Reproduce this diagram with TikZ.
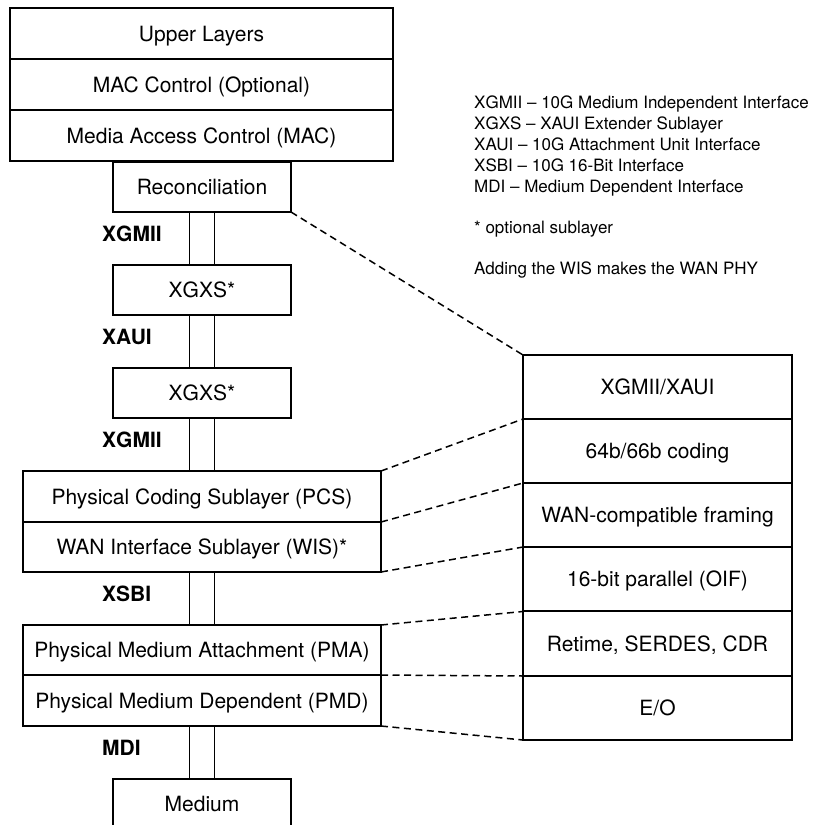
\documentclass[tikz,border=0pt]{standalone}
\usepackage{fontspec}
\setmainfont{TeX Gyre Heros}
\begin{document}
\begin{tikzpicture}[x=1pt,y=-1pt,
  box/.style={draw,line width=1.6pt,inner sep=0pt,outer sep=0pt,align=center,
    font=\fontsize{21}{25}\selectfont,text height=15pt,text depth=0pt},
  rbox/.style={draw,line width=1.1pt,inner sep=0pt,outer sep=0pt,minimum width=269pt,minimum height=64pt,
    font=\fontsize{21}{25}\selectfont,text height=15pt,text depth=0pt},
  lbl/.style={anchor=west,inner sep=0pt,font=\fontsize{21}{25}\selectfont\bfseries,text height=15pt,text depth=0pt},
  leg/.style={anchor=west,inner sep=0pt,font=\fontsize{17}{20}\selectfont,text height=12.2pt,text depth=0pt},
  link/.style={line width=1.6pt},
  dsh/.style={line width=1.5pt,dash pattern=on 7pt off 4.5pt}]
\useasboundingbox (0,0) rectangle (812,825);
% top stack
\node[box,minimum width=383pt,minimum height=51pt] (upper) at (201.5,33.5) {Upper Layers};
\node[box,minimum width=383pt,minimum height=51pt] (macctl) at (201.5,84.5) {MAC Control (Optional)};
\node[box,minimum width=383pt,minimum height=51pt] (mac) at (201.5,135.5) {Media Access Control (MAC)};
\node[box,minimum width=178pt,minimum height=50pt] (recon) at (202,187) {Reconciliation};
\node[box,minimum width=178pt,minimum height=50pt] (xgxsa) at (202,290) {XGXS*};
\node[box,minimum width=178pt,minimum height=50pt] (xgxsb) at (202,393) {XGXS*};
\node[box,minimum width=358pt,minimum height=51pt] (pcs) at (202,496.5) {Physical Coding Sublayer (PCS)};
\node[box,minimum width=358pt,minimum height=50pt] (wis) at (202,547) {WAN Interface Sublayer (WIS)*};
\node[box,minimum width=358pt,minimum height=50pt] (pma) at (202,650) {Physical Medium Attachment (PMA)};
\node[box,minimum width=358pt,minimum height=51pt] (pmd) at (202,700.5) {Physical Medium Dependent (PMD)};
\node[box,draw=none,minimum width=178pt,minimum height=50pt] (medium) at (202,804) {Medium};
\draw[line width=1.6pt] (medium.south west) -- (medium.north west) -- (medium.north east) -- (medium.south east);
% interface labels
\node[lbl] (l1) at (102,234) {XGMII};
\node[lbl] (l2) at (102,337) {XAUI};
\node[lbl] (l3) at (102,440) {XGMII};
\node[lbl] (l4) at (102,594) {XSBI};
\node[lbl] (l5) at (102,748) {MDI};
% double links
\foreach \a/\b in {recon/xgxsa,xgxsa/xgxsb,xgxsb/pcs,wis/pma,pmd/medium}{
  \draw[link] ([xshift=-12.5pt]\a.south) -- ([xshift=-12.5pt]\b.north);
  \draw[link] ([xshift=12.5pt]\a.south) -- ([xshift=12.5pt]\b.north);
}
% right stack
\node[rbox] (r1) at (657.5,387) {XGMII/XAUI};
\node[rbox] (r2) at (657.5,451) {64b/66b coding};
\node[rbox] (r3) at (657.5,515) {WAN-compatible framing};
\node[rbox] (r4) at (657.5,579) {16-bit parallel (OIF)};
\node[rbox] (r5) at (657.5,643.5) {Retime, SERDES, CDR};
\node[rbox] (r6) at (657.5,708) {E/O};
% dashed connectors
\draw[dsh] (recon.south east) -- (r1.north west);
\draw[dsh] (pcs.north east) -- (r2.north west);
\draw[dsh] (pcs.south east) -- (r3.north west);
\draw[dsh] (wis.south east) -- (r4.north west);
\draw[dsh] (pma.north east) -- (r5.north west);
\draw[dsh] (pma.south east) -- (r6.north west);
\draw[dsh] (pmd.south east) -- (r6.south west);
% legend
\node[leg] (g1) at (474,102) {XGMII – 10G Medium Independent Interface};
\node[leg] (g2) at (474,123) {XGXS – XAUI Extender Sublayer};
\node[leg] (g3) at (474,144) {XAUI – 10G Attachment Unit Interface};
\node[leg] (g4) at (474,165) {XSBI – 10G 16-Bit Interface};
\node[leg] (g5) at (474,186) {MDI – Medium Dependent Interface};
\node[leg] (g6) at (474,227) {* optional sublayer};
\node[leg] (g7) at (474,268) {Adding the WIS makes the WAN PHY};
\end{tikzpicture}
\end{document}
